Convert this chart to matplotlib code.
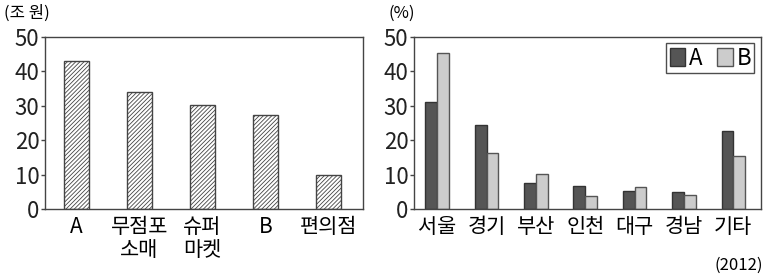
import numpy as np
import matplotlib
matplotlib.use("Agg")
import matplotlib.pyplot as plt
from matplotlib.patches import Patch

plt.rcParams['font.family'] = ['Noto Sans CJK KR', 'DejaVu Sans']
plt.rcParams['hatch.linewidth'] = 0.6
plt.rcParams['hatch.color'] = '#333333'

# left panel: sales (조 원)
store_types = ["A", "무점포\n소매", "슈퍼\n마켓", "B", "편의점"]
sales = [43, 34, 30.3, 27.3, 10]

# right panel: regional share (%)
regions = ["서울", "경기", "부산", "인천", "대구", "경남", "기타"]
share_a = [31, 24.3, 7.5, 6.6, 5.2, 4.9, 22.5]
share_b = [45.3, 16.3, 10.1, 3.8, 6.3, 4.0, 15.4]

W, H = 781, 274
fig = plt.figure(figsize=(W / 100, H / 100), dpi=100)
EDGE = "#444444"


def style(ax):
    ax.set_ylim(0, 50)
    ax.set_yticks([0, 10, 20, 30, 40, 50])
    for sp in ax.spines.values():
        sp.set_color(EDGE)
        sp.set_linewidth(1.0)
    ax.tick_params(axis="y", direction="out", length=3, width=1.0,
                   color=EDGE, labelsize=16, pad=1)
    ax.tick_params(axis="x", length=0, labelsize=15, pad=5)
    for lab in ax.get_yticklabels():
        lab.set_color("#222222")


# left chart
ax1 = fig.add_axes([45 / W, 65 / H, 318 / W, 172.3 / H])
x1 = np.arange(len(store_types))
ax1.bar(x1, sales, width=0.4, facecolor="white", edgecolor=EDGE,
        linewidth=1.0, hatch="////////")
ax1.set_xlim(-0.5, len(store_types) - 1 + 0.55)
ax1.set_xticks(x1)
ax1.set_xticklabels(store_types, linespacing=1.05, va="top")
style(ax1)
fig.text(4 / W, 1 - 13 / H, "(조 원)", fontsize=12, va="center", ha="left")

# right chart
ax2 = fig.add_axes([414 / W, 65 / H, 347 / W, 172.3 / H])
x2 = np.arange(len(regions))
bw = 0.24
ax2.bar(x2 - bw / 2, share_a, width=bw, color="#555555", edgecolor="#333333",
        linewidth=1.0, label="A")
ax2.bar(x2 + bw / 2, share_b, width=bw, color="#cccccc", edgecolor="#555555",
        linewidth=1.0, label="B")
ax2.set_xlim(-0.47, len(regions) - 1 + 0.56)
ax2.set_xticks(x2)
ax2.set_xticklabels(regions)
style(ax2)
fig.text(388 / W, 1 - 13 / H, "(%)", fontsize=12, va="center", ha="left")
fig.text(763 / W, 1 - 265 / H, "(2012)", fontsize=12, va="center", ha="right")

handles = [Patch(facecolor="#555555", edgecolor="#333333", label="A"),
           Patch(facecolor="#cccccc", edgecolor="#555555", label="B")]
leg = ax2.legend(handles=handles, loc="upper right", ncol=2, fontsize=16,
                 frameon=True, fancybox=False, edgecolor="#222222",
                 handlelength=0.7, handleheight=0.9, handletextpad=0.15,
                 columnspacing=0.7, borderpad=0.15, borderaxespad=0.3)
leg.get_frame().set_linewidth(1.0)

fig.savefig("out.png", dpi=100, facecolor="white")
